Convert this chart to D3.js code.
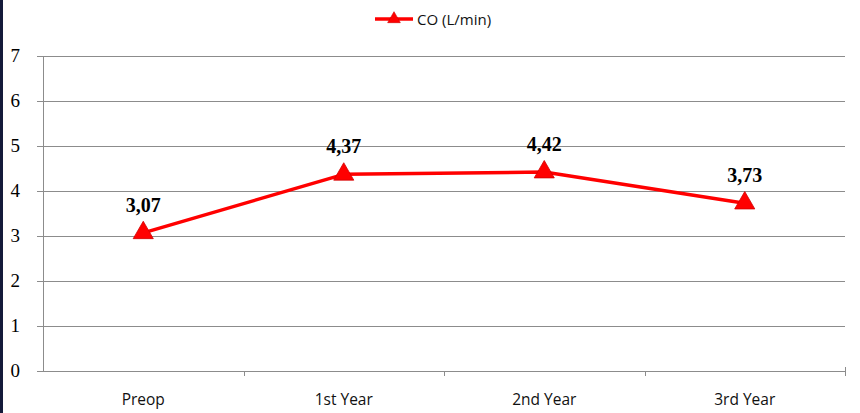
<!DOCTYPE html>
<html><head><meta charset="utf-8">
<script src="https://cdn.jsdelivr.net/npm/d3@7"></script>
<style>body{margin:0;background:#fff}svg{display:block}</style>
</head><body>
<script>
const categories = ["Preop", "1st Year", "2nd Year", "3rd Year"];
const coValues = [3.07, 4.37, 4.42, 3.73];
const valueLabels = ["3,07", "4,37", "4,42", "3,73"];
const yTicks = [0, 1, 2, 3, 4, 5, 6, 7];
const seriesName = "CO (L/min)";

(function(){
const W = 860, H = 413;
const svg = d3.select("body").append("svg").attr("width", W).attr("height", H);
svg.append("rect").attr("x",0).attr("y",0).attr("width",3).attr("height",H).attr("fill","#141a3a");

const pl = 43, pr = 845, pt = 56, pb = 371;
const x = d3.scaleBand().domain(categories).range([pl, pr]);
const y = d3.scaleLinear().domain([0, 7]).range([pb, pt]);

svg.append("g").selectAll("line").data(yTicks).join("line")
  .attr("x1", pl - 6).attr("x2", pr)
  .attr("y1", d => Math.round(y(d)) + 0.5).attr("y2", d => Math.round(y(d)) + 0.5)
  .attr("stroke", "#8c8c8c").attr("stroke-width", 1);
svg.append("line").attr("x1", pl + 0.5).attr("x2", pl + 0.5).attr("y1", pt).attr("y2", pb)
  .attr("stroke", "#8c8c8c");
const bounds = categories.slice(1).map(c => Math.round(x(c)) + 0.5).concat([pr + 0.5]);
svg.append("g").selectAll("line").data(bounds).join("line")
  .attr("x1", d => d).attr("x2", d => d).attr("y1", pb).attr("y2", pb + 5)
  .attr("stroke", "#8c8c8c");
svg.append("line").attr("x1", pr + 0.5).attr("x2", pr + 0.5).attr("y1", pb - 4).attr("y2", pb)
  .attr("stroke", "#8c8c8c");

svg.append("g").selectAll("text").data(yTicks).join("text")
  .attr("x", 20).attr("y", d => y(d) + 6).attr("text-anchor", "end")
  .attr("font-family", "Liberation Serif, Times New Roman, serif").attr("font-size", 19)
  .text(d => d);
svg.append("g").selectAll("text").data(categories).join("text")
  .attr("x", d => x(d) + x.bandwidth()/2).attr("y", 405).attr("text-anchor", "middle")
  .attr("font-family", "Open Sans, DejaVu Sans, sans-serif").attr("font-size", 15.5).attr("fill","#111")
  .text(d => d);

const cx = i => x(categories[i]) + x.bandwidth()/2;
const line = d3.line().x((d,i) => cx(i)).y(d => y(d));
svg.append("path").datum(coValues).attr("d", line).attr("fill","none")
  .attr("stroke", "#ff0000").attr("stroke-width", 3.5).attr("stroke-linejoin","round");

const tri = d3.symbol().type(d3.symbolTriangle).size(175);
svg.append("g").selectAll("path").data(coValues).join("path")
  .attr("d", tri).attr("transform", (d,i) => `translate(${cx(i)},${y(d)})`)
  .attr("fill", "#ff0000").attr("stroke", "#d00000").attr("stroke-width", 0.8);

svg.append("g").selectAll("text").data(coValues).join("text")
  .attr("x", (d,i) => cx(i)).attr("y", d => y(d) - 21).attr("text-anchor", "middle")
  .attr("font-family", "Liberation Serif, Times New Roman, serif").attr("font-weight", "bold").attr("font-size", 20)
  .text((d,i) => valueLabels[i]);

const lg = svg.append("g");
lg.append("line").attr("x1", 375).attr("x2", 413).attr("y1", 19).attr("y2", 19)
  .attr("stroke", "#ff0000").attr("stroke-width", 3.5);
lg.append("path").attr("d", d3.symbol().type(d3.symbolTriangle).size(70)).attr("transform","translate(394,19)")
  .attr("fill","#ff0000").attr("stroke","#d00000").attr("stroke-width",0.6);
lg.append("text").attr("x", 417).attr("y", 25).attr("font-family","Open Sans, DejaVu Sans, sans-serif")
  .attr("font-size", 15).attr("fill","#111").text(seriesName);
})();
</script>
</body></html>
